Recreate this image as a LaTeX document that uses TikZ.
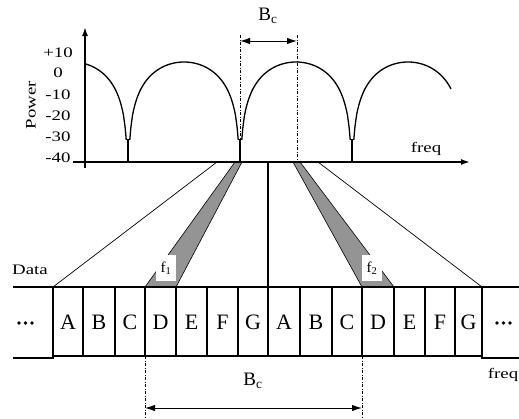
\documentclass[tikz,border=0pt]{standalone}
\usepackage{fontspec}
\setmainfont{Liberation Serif}
\newfontfamily\widefont[FakeStretch=1.3]{Liberation Serif}
\usetikzlibrary{arrows.meta}
\begin{document}
\begin{tikzpicture}[x=1pt,y=-1pt,
  small/.style={font=\widefont\fontsize{14.5}{14.5}\selectfont, inner sep=0pt},
  cellletter/.style={font=\fontsize{22}{22}\selectfont, inner sep=0pt},
  bclabel/.style={font=\fontsize{19}{19}\selectfont, inner sep=0pt},
  flabel/.style={font=\fontsize{15}{15}\selectfont, fill=white, inner sep=0pt, minimum width=20pt, minimum height=26pt},
  axisline/.style={line width=1.6pt},
  curveline/.style={line width=1.3pt},
  nullline/.style={line width=1.8pt},
  cellline/.style={line width=1.3pt},
  thinline/.style={line width=0.7pt},
  dashdot/.style={line width=0.9pt, dash pattern=on 3pt off 1.5pt on 1pt off 1.5pt},
  bandfill/.style={fill=black!42, draw=black, line width=0.6pt},
  dimarrow/.style={line width=1pt, {Latex[length=10pt,width=6.5pt]}-{Latex[length=10pt,width=6.5pt]}},
  dotmark/.style={circle, fill=black, inner sep=0pt, minimum size=3.8pt}
]
\useasboundingbox (0,0) rectangle (519,418);

% ---------- key coordinates ----------
\coordinate (yb) at (85,168);
\coordinate (yt) at (85,27);
\coordinate (xl) at (73,162);
\coordinate (xr) at (470,162);

% ---------- gray bands ----------
\draw[bandfill] (235,162) -- (242,162) -- (176,287) -- (145,287) -- cycle;
\draw[bandfill] (293,162) -- (300,162) -- (394,287) -- (362,287) -- cycle;
\node[flabel] (f1) at (166,268) {f\textsubscript{1}};
\node[flabel] (f2) at (372,268) {f\textsubscript{2}};

% ---------- fan lines ----------
\coordinate (fl1) at (217,162);
\coordinate (fl2) at (53,287);
\coordinate (fr1) at (318,162);
\coordinate (fr2) at (482,287);
\coordinate (fc1) at (268,162);
\coordinate (fc2) at (268,287);
\draw[thinline] (fl1) -- (fl2);
\draw[thinline] (fr1) -- (fr2);
\draw[cellline] (fc1) -- (fc2);

% ---------- spectrum ----------
\draw[curveline] plot[domain=85:126.2, samples=60] (\x, {62-60*log10(cos(90*(\x-72)/56))});
\draw[curveline] plot[domain=129.8:238.2, samples=120] (\x, {62-60*log10(cos(90*(\x-184)/56))});
\draw[curveline] plot[domain=241.8:350.2, samples=120] (\x, {62-60*log10(cos(90*(\x-296)/56))});
\draw[curveline] plot[domain=353.8:451, samples=100] (\x, {62-60*log10(cos(90*(\x-408)/56))});
\coordinate (n1a) at (128,139); \coordinate (n1b) at (128,162);
\coordinate (n2a) at (240,139); \coordinate (n2b) at (240,162);
\coordinate (n3a) at (352,139); \coordinate (n3b) at (352,162);
\draw[nullline] (n1a) -- (n1b);
\draw[nullline] (n2a) -- (n2b);
\draw[nullline] (n3a) -- (n3b);

% ---------- axes ----------
\draw[axisline, -{Latex[length=9pt,width=6pt]}] (yb) -- (yt);
\draw[axisline, -{Latex[length=9pt,width=6pt]}] (xl) -- (xr);
\node[small] (t10) at (58,53) {+10};
\node[small] (t0) at (58,73) {0};
\node[small] (tm10) at (58,95) {-10};
\node[small] (tm20) at (58,116) {-20};
\node[small] (tm30) at (58,137) {-30};
\node[small] (tm40) at (58,158) {-40};
\node[small, rotate=90] (power) at (31,105) {Power};
\node[small] (freqtop) at (426,149) {freq};

% ---------- top Bc ----------
\coordinate (bt1) at (240,35); \coordinate (bt1b) at (240,140);
\coordinate (bt2) at (297,35); \coordinate (bt2b) at (297,162);
\draw[dashdot] (bt1) -- (bt1b);
\draw[dashdot] (bt2) -- (bt2b);
\coordinate (ba1) at (240,41); \coordinate (ba2) at (297,41);
\draw[dimarrow] (ba1) -- (ba2);
\node[bclabel] (bctop) at (268,16) {B\textsubscript{c}};

% ---------- data row ----------
\node[small] (data) at (30,270) {Data};
\draw[cellline] (13,287) -- (519,287);
\draw[cellline] (13,358) -- (53,358) -- (53,356) -- (482,356) -- (482,358) -- (519,358);
\foreach \bx in {53,83,115,145,176,207,238,268,300,332,362,394,425,455,482}
  \draw[cellline] (\bx,287) -- (\bx,356);
\draw[line width=2pt] (145,287) -- (176,287);
\foreach \cx/\lt/\nm in {68/A/c1,99/B/c2,130/C/c3,160.5/D/c4,191.5/E/c5,222.5/F/c6,253/G/c7,
                          284/A/c8,316/B/c9,347/C/c10,378/D/c11,409.5/E/c12,440/F/c13,468.5/G/c14}
  \node[cellletter] (\nm) at (\cx,322) {\lt};
\foreach \dx/\nm in {19/d1,25.5/d2,32/d3,497/d4,503.5/d5,510/d6}
  \node[dotmark] (\nm) at (\dx,323) {};
\node[small] (freqbot) at (503,375) {freq};

% ---------- bottom Bc ----------
\coordinate (bb1) at (145,356); \coordinate (bb1b) at (145,418);
\coordinate (bb2) at (362,356); \coordinate (bb2b) at (362,418);
\draw[dashdot] (bb1) -- (bb1b);
\draw[dashdot] (bb2) -- (bb2b);
\coordinate (bba1) at (145,408); \coordinate (bba2) at (362,408);
\draw[dimarrow] (bba1) -- (bba2);
\node[bclabel] (bcbot) at (253,381) {B\textsubscript{c}};
\end{tikzpicture}
\end{document}
